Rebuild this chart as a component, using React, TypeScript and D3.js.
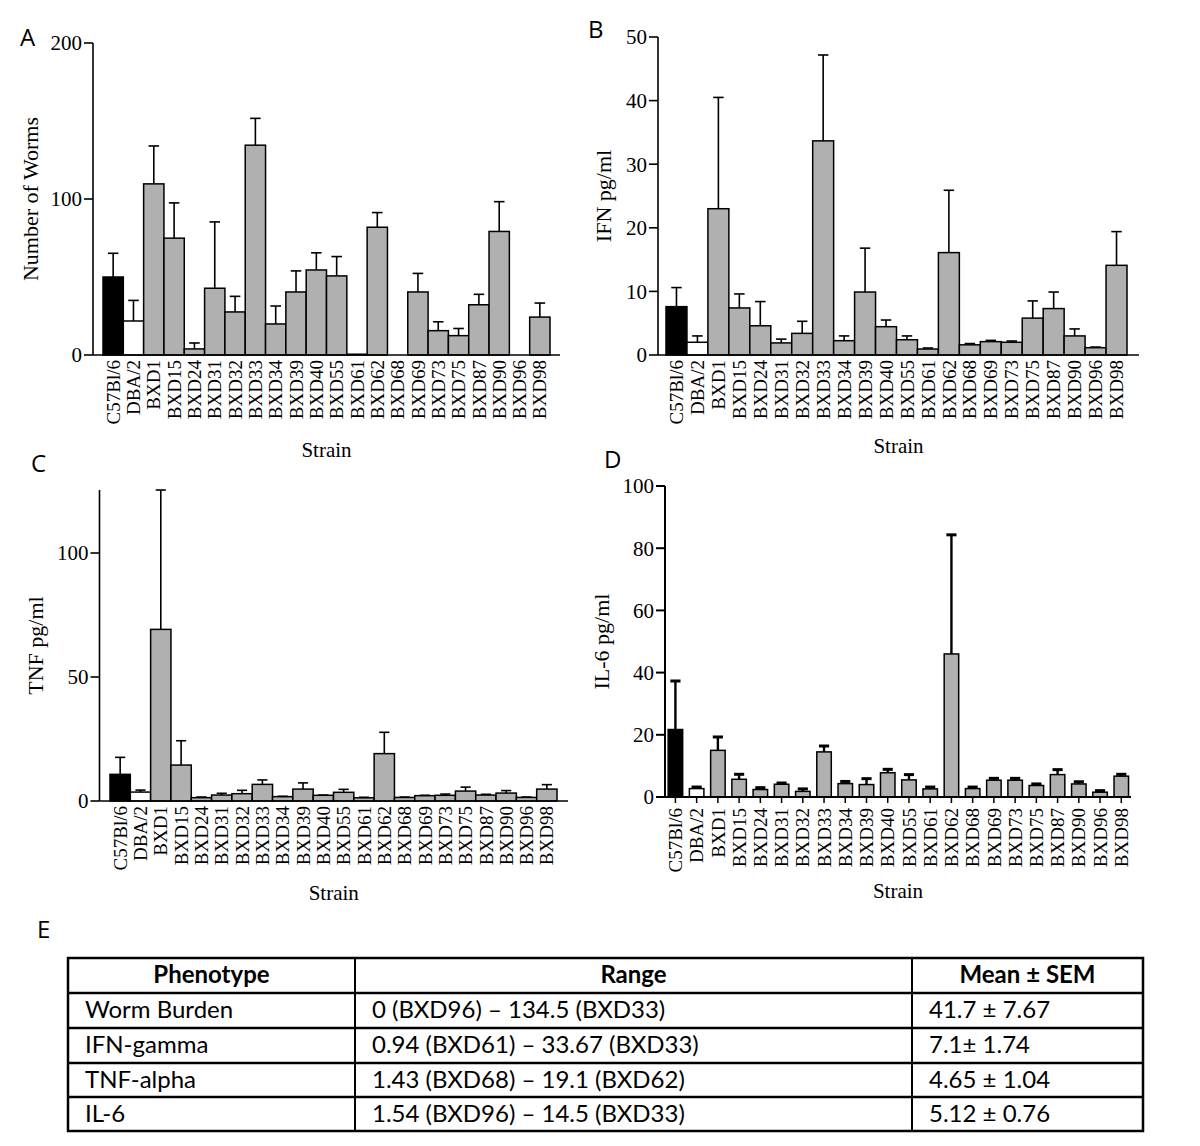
import React from "react";
import * as d3 from "d3";

// ---------------- DATA ----------------
const strains = [
  "C57Bl/6", "DBA/2", "BXD1", "BXD15", "BXD24", "BXD31", "BXD32", "BXD33",
  "BXD34", "BXD39", "BXD40", "BXD55", "BXD61", "BXD62", "BXD68", "BXD69",
  "BXD73", "BXD75", "BXD87", "BXD90", "BXD96", "BXD98",
];

const wormMean = [50, 21.8, 109.7, 74.9, 3.9, 42.8, 27.6, 134.5, 19.9, 40.4, 54.5, 50.7, 0.5, 81.9, 0, 40.4, 15.6, 12.4, 32.2, 79.2, 0, 24.3];
const wormSem = [15.2, 13.2, 24.3, 22.6, 3.8, 42.5, 10, 17.2, 11.5, 13.5, 11, 12.4, 0, 9.4, 0, 11.9, 5.7, 4.6, 6.7, 19.1, 0, 9];

const ifnMean = [7.6, 2.0, 23.0, 7.4, 4.6, 1.9, 3.4, 33.67, 2.25, 9.9, 4.45, 2.4, 0.94, 16.1, 1.6, 2.1, 2.0, 5.8, 7.3, 3.0, 1.15, 14.1];
const ifnSem = [3.0, 1.0, 17.5, 2.2, 3.8, 0.6, 1.9, 13.5, 0.75, 6.9, 1.05, 0.6, 0.16, 9.8, 0.2, 0.2, 0.2, 2.7, 2.6, 1.1, 0.1, 5.3];

const tnfMean = [10.75, 3.6, 69.2, 14.5, 1.35, 2.4, 2.95, 6.7, 1.75, 4.8, 2.3, 3.5, 1.3, 19.1, 1.43, 2.15, 2.3, 4.0, 2.4, 3.2, 1.45, 4.8];
const tnfSem = [6.85, 0.8, 56.2, 9.8, 0.25, 0.7, 1.35, 1.8, 0.15, 2.5, 0.1, 1.2, 0.2, 8.6, 0.17, 0.15, 0.5, 1.6, 0.3, 1.0, 0.15, 1.8];

const il6Mean = [21.7, 2.7, 15.0, 5.7, 2.4, 4.1, 1.8, 14.5, 4.3, 4.0, 7.8, 5.5, 2.6, 46.0, 2.7, 5.4, 5.4, 3.7, 7.2, 4.2, 1.54, 6.7];
const il6Sem = [15.6, 0.5, 4.3, 1.6, 0.6, 0.4, 0.8, 1.9, 0.7, 1.9, 1.1, 1.7, 0.6, 38.3, 0.5, 0.6, 0.6, 0.5, 1.6, 0.7, 0.5, 0.6];

const wormTicks = [0, 100, 200];
const ifnTicks = [0, 10, 20, 30, 40, 50];
const tnfTicks = [0, 50, 100];
const il6Ticks = [0, 20, 40, 60, 80, 100];

const tableHeader = ["Phenotype", "Range", "Mean ± SEM"];
const tablePhenotypes = ["Worm Burden", "IFN-gamma", "TNF-alpha", "IL-6"];
const tableRanges = [
  "0 (BXD96) – 134.5 (BXD33)",
  "0.94 (BXD61) – 33.67 (BXD33)",
  "1.43 (BXD68) – 19.1 (BXD62)",
  "1.54 (BXD96) – 14.5 (BXD33)",
];
const tableMeans = ["41.7 ± 7.67", "7.1± 1.74", "4.65 ± 1.04", "5.12 ± 0.76"];

// ---------------- STYLE ----------------
const SERIF = "'Liberation Serif', 'Times New Roman', serif";
const SANS = "Lato, 'Open Sans', sans-serif";
const LETTER_FONT = "'Open Sans', sans-serif";
const GRAY = "#b0b0b0";

function barFill(i: number) {
  if (i === 0) return "#000";
  if (i === 1) return "#fff";
  return GRAY;
}

type PanelProps = {
  letter: string;
  letterX: number;
  letterY: number;
  means: number[];
  sems: number[];
  ticks: number[];
  domainMax: number;
  axisTopValue: number;
  axisX: number;
  axisEnd: number;
  bandStart: number;
  bandEnd: number;
  paddingInner: number;
  paddingOuter: number;
  y0: number;
  yTop: number;
  yLabel: string;
  yLabelX: number;
  strainY: number;
  heavy?: boolean;
  catTicks?: boolean;
  capFrac: number;
};

function Panel(p: PanelProps) {
  const x = d3
    .scaleBand<string>()
    .domain(strains)
    .range([p.bandStart, p.bandEnd])
    .paddingInner(p.paddingInner)
    .paddingOuter(p.paddingOuter);
  const y = d3.scaleLinear().domain([0, p.domainMax]).range([p.y0, p.yTop]);
  const bw = x.bandwidth();
  const axisW = p.heavy ? 2 : 1.6;
  const errW = p.heavy ? 2.4 : 1.6;
  const capW = p.heavy ? 3 : 1.6;
  const tickLen = 9;
  const labelGap = p.catTicks ? 11 : 5;
  const yMid = (p.y0 + y(p.axisTopValue)) / 2;
  const xMid = (p.axisX + p.axisEnd) / 2;

  return (
    <g>
      <text x={p.letterX} y={p.letterY} fontFamily={LETTER_FONT} fontSize={24} fill="#000">
        {p.letter}
      </text>

      {/* bars */}
      {strains.map((s, i) => {
        const v = p.means[i];
        if (v <= 0) return null;
        const bx = x(s)!;
        return (
          <rect
            key={s}
            x={bx}
            y={y(v)}
            width={bw}
            height={p.y0 - y(v)}
            fill={barFill(i)}
            stroke="#000"
            strokeWidth={1.5}
          />
        );
      })}

      {/* error bars */}
      {strains.map((s, i) => {
        const v = p.means[i];
        const e = p.sems[i];
        if (e <= 0) return null;
        const cx = x(s)! + bw / 2;
        const yt = y(v + e);
        const half = (bw * p.capFrac) / 2;
        return (
          <g key={s} stroke="#000">
            <line x1={cx} x2={cx} y1={y(v)} y2={yt} strokeWidth={errW} />
            <line x1={cx - half} x2={cx + half} y1={yt} y2={yt} strokeWidth={capW} />
          </g>
        );
      })}

      {/* y axis */}
      <line x1={p.axisX} x2={p.axisX} y1={p.y0} y2={y(p.axisTopValue)} stroke="#000" strokeWidth={axisW} />
      {p.ticks.map((t) => (
        <g key={t}>
          <line x1={p.axisX - tickLen} x2={p.axisX} y1={y(t)} y2={y(t)} stroke="#000" strokeWidth={axisW} />
          <text
            x={p.axisX - tickLen - 2}
            y={y(t)}
            dy="0.35em"
            textAnchor="end"
            fontFamily={SERIF}
            fontSize={21}
            fill="#000"
          >
            {t}
          </text>
        </g>
      ))}

      {/* x axis */}
      <line x1={p.axisX} x2={p.axisEnd} y1={p.y0} y2={p.y0} stroke="#000" strokeWidth={axisW} />
      {strains.map((s) => {
        const cx = x(s)! + bw / 2;
        return (
          <g key={s}>
            {p.catTicks && (
              <line x1={cx} x2={cx} y1={p.y0} y2={p.y0 + 6} stroke="#000" strokeWidth={1.5} />
            )}
            <text
              transform={`translate(${cx},${p.y0 + labelGap}) rotate(-90)`}
              dy="0.35em"
              textAnchor="end"
              fontFamily={SERIF}
              fontSize={19}
              fill="#000"
            >
              {s}
            </text>
          </g>
        );
      })}

      {/* axis titles */}
      <text
        transform={`translate(${p.yLabelX},${yMid}) rotate(-90)`}
        textAnchor="middle"
        fontFamily={SERIF}
        fontSize={22}
        fill="#000"
      >
        {p.yLabel}
      </text>
      <text x={xMid} y={p.strainY} textAnchor="middle" fontFamily={SERIF} fontSize={21} fill="#000">
        Strain
      </text>
    </g>
  );
}

function Table() {
  const left = 68;
  const right = 1143;
  const colX = [left, 355, 912, right];
  const rowY = [958, 993, 1028, 1063, 1097, 1131];
  const pad = 17;
  const rows = tablePhenotypes.map((ph, i) => [ph, tableRanges[i], tableMeans[i]]);
  return (
    <g>
      <text x={37} y={938} fontFamily={LETTER_FONT} fontSize={24} fill="#000">
        E
      </text>
      <rect
        x={left}
        y={rowY[0]}
        width={right - left}
        height={rowY[rowY.length - 1] - rowY[0]}
        fill="#fff"
        stroke="#000"
        strokeWidth={2.5}
      />
      {rowY.slice(1, -1).map((yy) => (
        <line key={yy} x1={left} x2={right} y1={yy} y2={yy} stroke="#000" strokeWidth={2.5} />
      ))}
      {colX.slice(1, -1).map((xx) => (
        <line key={xx} x1={xx} x2={xx} y1={rowY[0]} y2={rowY[rowY.length - 1]} stroke="#000" strokeWidth={2} />
      ))}
      {tableHeader.map((h, j) => (
        <text
          key={h}
          x={(colX[j] + colX[j + 1]) / 2}
          y={rowY[0] + 25}
          textAnchor="middle"
          fontFamily={SANS}
          fontWeight="bold"
          fontSize={24}
          fill="#000"
        >
          {h}
        </text>
      ))}
      {rows.map((r, i) =>
        r.map((c, j) => (
          <text
            key={i + "-" + j}
            x={colX[j] + pad}
            y={rowY[i + 1] + 25}
            fontFamily={SANS}
            fontSize={24}
            fill="#000"
          >
            {c}
          </text>
        ))
      )}
    </g>
  );
}

export default function App() {
  return (
    <svg
      width={1200}
      height={1146}
      viewBox="0 0 1200 1146"
      style={{ position: "absolute", left: 0, top: 0, background: "#fff", display: "block" }}
    >
      <rect x={0} y={0} width={1200} height={1146} fill="#fff" />
      <Panel
        letter="A"
        letterX={20}
        letterY={46}
        means={wormMean}
        sems={wormSem}
        ticks={wormTicks}
        domainMax={200}
        axisTopValue={200}
        axisX={93}
        axisEnd={560}
        bandStart={103}
        bandEnd={550}
        paddingInner={0}
        paddingOuter={0}
        y0={355}
        yTop={43}
        yLabel="Number of Worms"
        yLabelX={38}
        strainY={457}
        capFrac={0.52}
      />
      <Panel
        letter="B"
        letterX={588}
        letterY={38}
        means={ifnMean}
        sems={ifnSem}
        ticks={ifnTicks}
        domainMax={50}
        axisTopValue={50}
        axisX={658}
        axisEnd={1139}
        bandStart={666}
        bandEnd={1127}
        paddingInner={0}
        paddingOuter={0}
        y0={355}
        yTop={37}
        yLabel="IFN pg/ml"
        yLabelX={611}
        strainY={453}
        capFrac={0.5}
      />
      <Panel
        letter="C"
        letterX={31}
        letterY={472}
        means={tnfMean}
        sems={tnfSem}
        ticks={tnfTicks}
        domainMax={100}
        axisTopValue={125.4}
        axisX={99.5}
        axisEnd={568}
        bandStart={110}
        bandEnd={557}
        paddingInner={0}
        paddingOuter={0}
        y0={801}
        yTop={553}
        yLabel="TNF pg/ml"
        yLabelX={43}
        strainY={900}
        capFrac={0.5}
      />
      <Panel
        letter="D"
        letterX={604}
        letterY={468}
        means={il6Mean}
        sems={il6Sem}
        ticks={il6Ticks}
        domainMax={100}
        axisTopValue={100}
        axisX={665}
        axisEnd={1131}
        bandStart={664.8}
        bandEnd={1131.9}
        paddingInner={0.317}
        paddingOuter={0.1585}
        y0={797}
        yTop={486}
        yLabel="IL-6 pg/ml"
        yLabelX={609}
        strainY={898}
        heavy
        catTicks
        capFrac={0.7}
      />
      <Table />
    </svg>
  );
}
